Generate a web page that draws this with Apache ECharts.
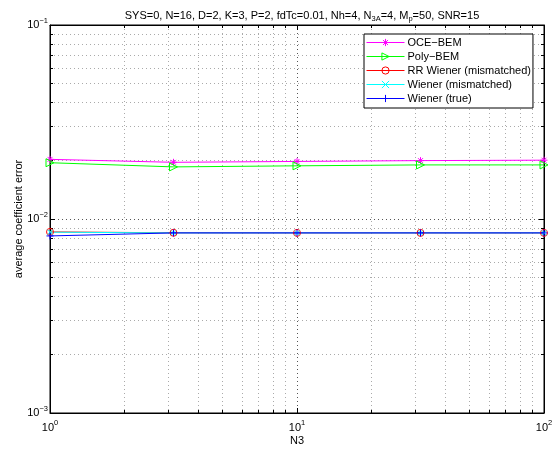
<!DOCTYPE html>
<html><head><meta charset="utf-8">
<script src="https://cdn.jsdelivr.net/npm/echarts@6/dist/echarts.min.js"></script>
<style>html,body{margin:0;padding:0;background:#fff}#c{width:557px;height:449px}</style>
</head><body><div id="c"></div>
<script>
const n3 = [1, 3.1623, 10, 31.623, 100];
const oceBem = [0.0203, 0.0196, 0.0198, 0.0200, 0.0201];
const polyBem = [0.0195, 0.01856, 0.0188, 0.0190, 0.0190];
const rrWienerMis = [0.00858, 0.00849, 0.00848, 0.00848, 0.00848];
const wienerMis = [0.00855, 0.00848, 0.00848, 0.00848, 0.00848];
const wienerTrue = [0.00818, 0.00848, 0.00848, 0.00848, 0.00848];
const seriesNames = ['OCE\u2212BEM', 'Poly\u2212BEM', 'RR Wiener (mismatched)', 'Wiener (mismatched)', 'Wiener (true)'];
const xTickExp = {1: '0', 10: '1', 100: '2'};
const yTickExp = {0.001: '\u22123', 0.01: '\u22122', 0.1: '\u22121'};

const FONT = 'Liberation Sans, Arial, Helvetica, sans-serif';
const pairs = arr => n3.map((x, i) => [x, arr[i]]);
const supRich = {b: {fontSize: 11, fontFamily: FONT, color: '#000'}, s: {fontSize: 7.5, fontFamily: FONT, color: '#000', padding: [0, 0, 9, 0]}};

const asterisk = 'path://M5,0L5,10M0,5L10,5M1.5,1.5L8.5,8.5M8.5,1.5L1.5,8.5';
const xmark = 'path://M0,0L10,10M10,0L0,10';
const plus = 'path://M5,0L5,10M0,5L10,5';

function mk(name, data, color, symbol, size, extra) {
  return Object.assign({
    name: name, type: 'line', data: pairs(data), symbol: symbol, symbolSize: size,
    lineStyle: {color: color, width: 1}, itemStyle: {color: 'rgba(0,0,0,0)', borderColor: color, borderWidth: 1},
    emphasis: {disabled: true}, animation: false, z: 3
  }, extra || {});
}

const gridLine = {lineStyle: {color: '#555', type: [1, 3], width: 1}};
const minorGrid = {show: true, lineStyle: {color: '#aaa', type: [1, 3], width: 1}};

const option = {
  animation: false,
  backgroundColor: '#fff',
  title: {
    text: 'SYS=0, N=16, D=2, K=3, P=2, fdTc=0.01, Nh=4, {t|N}{sub|3A}{t|=4, M}{sub|p}{t|=50, SNR=15}',
    left: 297, textAlign: 'center', top: 4,
    textStyle: {fontSize: 11, fontWeight: 'normal', fontFamily: FONT, color: '#000',
      rich: {t: {fontSize: 11, fontFamily: FONT, color: '#000'}, sub: {fontSize: 7.5, fontFamily: FONT, color: '#000', padding: [6, 0, 0, 0]}}}
  },
  grid: {left: 50, right: 13, top: 25, bottom: 36, show: true, borderColor: '#000', borderWidth: 1, backgroundColor: '#fff', outerBoundsMode: 'none', containLabel: false},
  legend: {
    orient: 'vertical', left: 364, top: 34,
    padding: [3, 2, 4, 2], itemGap: 3, itemWidth: 38, itemHeight: 9,
    backgroundColor: '#fff', borderColor: '#000', borderWidth: 1, borderRadius: 0,
    lineStyle: {width: 1},
    itemStyle: {borderWidth: 1},
    textStyle: {fontSize: 11, fontFamily: FONT, color: '#000', padding: [0, 0, 0, -2]},
    data: seriesNames
  },
  xAxis: [{
    type: 'log', logBase: 10, min: 1, max: 100,
    name: 'N3', nameLocation: 'middle', nameGap: 22, nameMoveOverlap: false,
    nameTextStyle: {fontSize: 11, fontFamily: FONT, color: '#000'},
    axisLine: {lineStyle: {color: '#000'}},
    axisTick: {inside: true, length: 5, lineStyle: {color: '#000'}},
    minorTick: {show: true, splitNumber: 9, length: 3, lineStyle: {color: '#000'}},
    splitLine: Object.assign({show: true}, gridLine),
    minorSplitLine: minorGrid,
    axisLabel: {margin: 6, formatter: v => '{b|10}{s|' + (xTickExp[Math.round(v)] || '') + '}', rich: supRich}
  }, {
    type: 'log', logBase: 10, min: 1, max: 100, position: 'top',
    axisLine: {lineStyle: {color: '#000'}},
    axisTick: {inside: true, length: 5, lineStyle: {color: '#000'}},
    minorTick: {show: true, splitNumber: 9, length: 3, lineStyle: {color: '#000'}},
    splitLine: {show: false}, axisLabel: {show: false}
  }],
  yAxis: [{
    type: 'log', logBase: 10, min: 0.001, max: 0.1,
    name: 'average coefficient error', nameLocation: 'middle', nameGap: 26, nameMoveOverlap: false,
    nameTextStyle: {fontSize: 11, fontFamily: FONT, color: '#000'},
    axisLine: {lineStyle: {color: '#000'}},
    axisTick: {inside: true, length: 5, lineStyle: {color: '#000'}},
    minorTick: {show: true, splitNumber: 9, length: 3, lineStyle: {color: '#000'}},
    splitLine: Object.assign({show: true}, gridLine),
    minorSplitLine: minorGrid,
    axisLabel: {margin: 2, formatter: v => {
      const k = v < 0.005 ? 0.001 : (v < 0.05 ? 0.01 : 0.1);
      return '{b|10}{s|' + yTickExp[k] + '}';
    }, rich: supRich}
  }, {
    type: 'log', logBase: 10, min: 0.001, max: 0.1, position: 'right',
    axisLine: {lineStyle: {color: '#000'}},
    axisTick: {inside: true, length: 5, lineStyle: {color: '#000'}},
    minorTick: {show: true, splitNumber: 9, length: 3, lineStyle: {color: '#000'}},
    splitLine: {show: false}, axisLabel: {show: false}
  }],
  series: [
    mk(seriesNames[0], oceBem, '#ff00ff', asterisk, 7),
    mk(seriesNames[1], polyBem, '#00ff00', 'triangle', 8, {symbolRotate: -90}),
    mk(seriesNames[2], rrWienerMis, '#ff0000', 'circle', 7),
    mk(seriesNames[3], wienerMis, '#00ffff', xmark, 5),
    mk(seriesNames[4], wienerTrue, '#0000ff', plus, 7)
  ]
};
echarts.init(document.getElementById('c'), null, {renderer: 'canvas'}).setOption(option);
</script></body></html>
